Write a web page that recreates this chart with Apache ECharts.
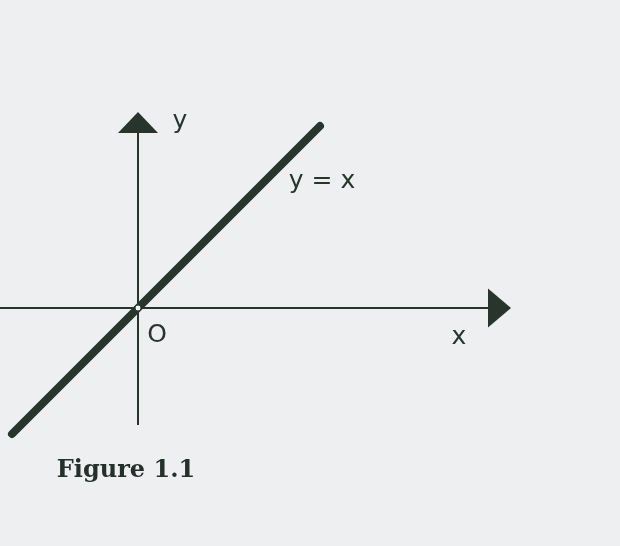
<!DOCTYPE html>
<html>
<head>
<meta charset="utf-8">
<script src="https://cdn.jsdelivr.net/npm/echarts@6/dist/echarts.min.js"></script>
<style>
html,body{margin:0;padding:0;background:#edeff1;}
#c{width:620px;height:546px;}
</style>
</head>
<body>
<div id="c"></div>
<script>
// Data (units: 1 = 100 px, origin at the axes crossing)
const lineX = [-1.26, 1.82];          // y = x from lower-left to upper-right
const lineY = [-1.26, 1.82];
const hAxisX = [-1.40, 3.52];         // horizontal axis extent
const hArrowX = 3.615;                // horizontal arrow head centre
const vAxisY = [-1.17, 1.76];         // vertical axis extent
const vArrowY = 1.855;                // vertical arrow head centre
const labelText = ['y', 'y = x', 'O', 'x'];
const labelX = [0.42, 1.84, 0.19, 3.21];
const labelY = [1.87, 1.27, -0.27, -0.29];
const captionText = 'Figure 1.1';
const captionPos = [-0.12, -1.63];

const ink = '#27352d';
const chart = echarts.init(document.getElementById('c'));
chart.setOption({
  backgroundColor: '#edeff1',
  animation: false,
  grid: {left: 0, right: 0, top: 0, bottom: 0},
  xAxis: {type: 'value', min: -1.38, max: 4.82, show: false},
  yAxis: {type: 'value', min: -2.38, max: 3.08, show: false},
  series: [
    {
      type: 'line', symbol: 'none', silent: true, z: 1,
      lineStyle: {color: ink, width: 2},
      data: [[hAxisX[0], 0], [hAxisX[1], 0]]
    },
    {
      type: 'line', symbol: 'none', silent: true, z: 1,
      lineStyle: {color: ink, width: 2},
      data: [[0, vAxisY[0]], [0, vAxisY[1]]]
    },
    {
      type: 'scatter', silent: true, z: 2,
      itemStyle: {color: ink, opacity: 1},
      data: [
        {value: [hArrowX, 0], symbol: 'triangle', symbolSize: [39, 23], symbolRotate: -90},
        {value: [0, vArrowY], symbol: 'triangle', symbolSize: [40, 21]}
      ]
    },
    {
      type: 'line', symbol: 'none', silent: true, z: 3,
      lineStyle: {color: ink, width: 8, cap: 'round'},
      data: lineX.map((x, i) => [x, lineY[i]])
    },
    {
      type: 'scatter', silent: true, symbol: 'circle', symbolSize: 6, z: 5,
      itemStyle: {color: '#f4f5f5', borderColor: ink, borderWidth: 1, opacity: 1},
      data: [[0, 0]]
    },
    {
      type: 'scatter', silent: true, symbolSize: 0, z: 6,
      itemStyle: {opacity: 1},
      label: {
        show: true, position: 'inside', opacity: 1,
        formatter: p => p.data.name,
        color: ink, fontFamily: 'DejaVu Sans', fontSize: 25
      },
      data: labelText.map((t, i) => ({name: t, value: [labelX[i], labelY[i]]}))
    },
    {
      type: 'scatter', silent: true, symbolSize: 0, z: 6,
      itemStyle: {opacity: 1},
      label: {
        show: true, position: 'inside', opacity: 1,
        formatter: p => p.data.name,
        color: '#25302a', fontFamily: 'DejaVu Serif', fontSize: 24, fontWeight: 'bold'
      },
      data: [{name: captionText, value: captionPos}]
    }
  ]
});
</script>
</body>
</html>
